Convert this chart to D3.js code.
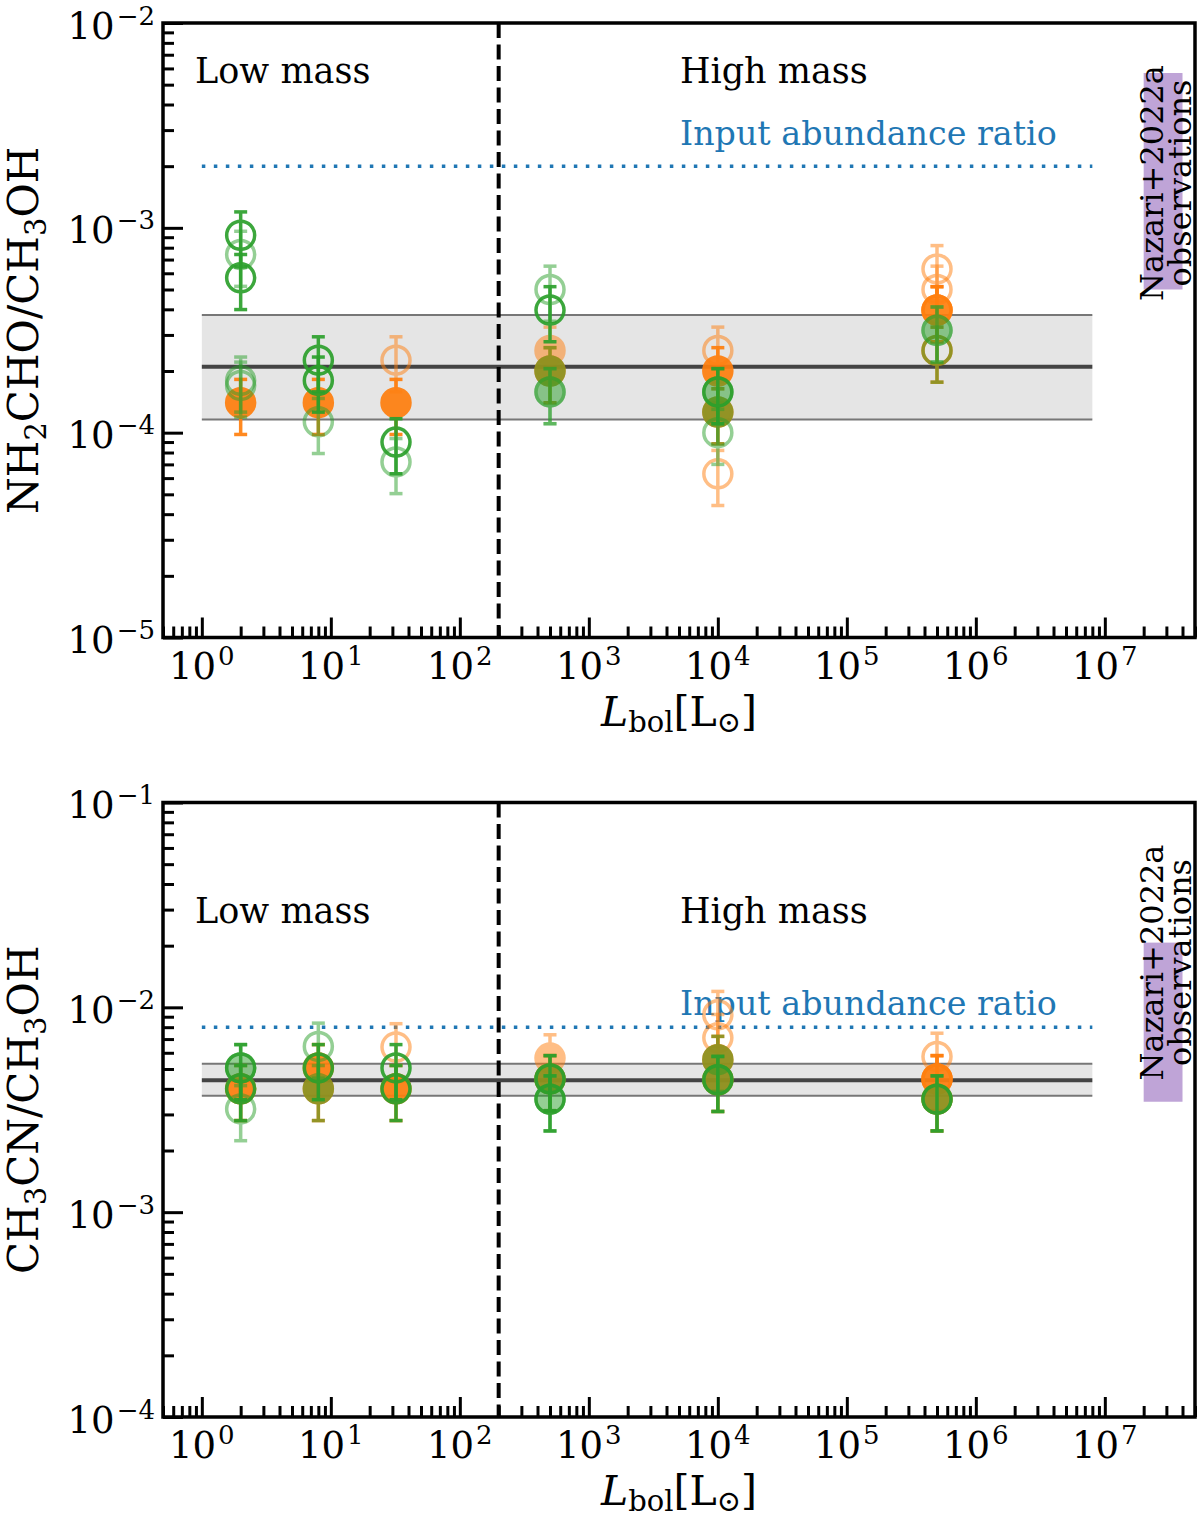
<!DOCTYPE html>
<html><head><meta charset="utf-8">
<script src="https://cdn.jsdelivr.net/npm/d3@7"></script>
<style>
body{margin:0;background:#fff}
svg{display:block}
text{font-family:"DejaVu Serif",serif;fill:#000}
</style>
</head><body>
<svg id="c" width="1200" height="1521"></svg>
<script>
// ---------------- DATA ----------------
// Bolometric luminosities of the sources (x values)
const luminosities = [2, 8, 32, 500, 1e4, 5e5];
const xMajorTicks = [1, 10, 100, 1e3, 1e4, 1e5, 1e6, 1e7];
const xTickExponents = ["0","1","2","3","4","5","6","7"];
const dividerL = 200;            // low / high mass boundary
const bandRangeX = [1, 8e6];     // extent of band and input line
const obsRangeX = [2e7, 4e7];    // Nazari+2022a observation box
const errFrac = 0.3;             // relative error bars

// ---- top panel: NH2CHO / CH3OH ----
const topYTicks = [1e-5, 1e-4, 1e-3, 1e-2];
const topYExponents = ["−5","−4","−3","−2"];
const topInput = 2e-3;
const topMedian = 2.1e-4;
const topBand = [1.16e-4, 3.75e-4];
const topObs = [5.0e-4, 5.7e-3];
const topOrangeFilled = [[2,1.4e-4],[8,1.4e-4],[32,1.4e-4],[500,2.0e-4],[1e4,2.0e-4],[1e4,1.26e-4],[5e5,3.97e-4]];
const topOrangeFilledFaint = [[500,2.52e-4]];
const topOrangeOpenFaint = [[32,2.26e-4],[1e4,2.52e-4],[1e4,6.3e-5],[5e5,6.3e-4],[5e5,5.0e-4]];
const topOrangeOpen = [[5e5,3.97e-4],[5e5,2.52e-4]];
const topGreenFilledFaint = [[500,2.0e-4],[500,1.58e-4],[1e4,1.58e-4],[1e4,1.26e-4],[5e5,3.16e-4]];
const topGreenOpen = [[2,9.2e-4],[2,5.7e-4],[8,2.26e-4],[8,1.8e-4],[32,9.0e-5],[500,3.97e-4],[1e4,1.58e-4]];
const topGreenOpenFaint = [[2,7.4e-4],[2,1.8e-4],[2,1.7e-4],[8,1.13e-4],[32,7.2e-5],[500,5.0e-4],[500,1.58e-4],[1e4,1.0e-4],[5e5,3.16e-4],[5e5,2.52e-4]];

// ---- bottom panel: CH3CN / CH3OH ----
const botYTicks = [1e-4, 1e-3, 1e-2, 1e-1];
const botYExponents = ["−4","−3","−2","−1"];
const botInput = 8e-3;
const botMedian = 4.4e-3;
const botBand = [3.7e-3, 5.3e-3];
const botObs = [3.46e-3, 2.07e-2];
const botOrangeFilled = [[2,4.0e-3],[8,5.06e-3],[8,4.0e-3],[32,4.0e-3],[500,4.47e-3],[1e4,5.55e-3],[1e4,4.43e-3],[5e5,4.47e-3],[5e5,3.56e-3]];
const botOrangeFilledFaint = [[500,5.65e-3]];
const botOrangeOpenFaint = [[32,6.4e-3],[1e4,9.2e-3],[1e4,7.1e-3],[5e5,5.75e-3]];
const botOrangeOpen = [[5e5,4.47e-3]];
const botGreenFilledFaint = [[2,5.06e-3],[8,4.0e-3],[500,4.47e-3],[500,3.56e-3],[1e4,5.55e-3],[1e4,4.43e-3],[5e5,3.56e-3]];
const botGreenOpen = [[2,5.06e-3],[2,4.0e-3],[8,5.06e-3],[32,5.06e-3],[32,4.0e-3],[500,4.47e-3],[500,3.56e-3],[1e4,4.43e-3],[5e5,3.56e-3]];
const botGreenOpenFaint = [[2,3.19e-3],[8,6.44e-3]];

// ---------------- STYLE ----------------
const ORANGE = "#ff7f0e", GREEN = "#2ca02c", BLUE = "#1f77b4", PURPLE = "#9467bd";
const svg = d3.select("#c");
const left = 163, right = 1195;
const x = d3.scaleLog().domain([0.5, 5e7]).range([left, right]);

const panels = [
  {top:23, bottom:637.5, yDomain:[1e-5,1e-2], yTicks:topYTicks, yExp:topYExponents,
   input:topInput, median:topMedian, band:topBand, obs:topObs,
   ylabel:[["NH",0],["2",1],["CHO/CH",0],["3",1],["OH",0]],
   massY:60, inputY:122,
   series:{orangeFilled:topOrangeFilled, orangeFilledFaint:topOrangeFilledFaint, orangeOpenFaint:topOrangeOpenFaint,
           orangeOpen:topOrangeOpen, greenFilledFaint:topGreenFilledFaint, greenOpen:topGreenOpen, greenOpenFaint:topGreenOpenFaint}},
  {top:802.5, bottom:1417, yDomain:[1e-4,1e-1], yTicks:botYTicks, yExp:botYExponents,
   input:botInput, median:botMedian, band:botBand, obs:botObs,
   ylabel:[["CH",0],["3",1],["CN/CH",0],["3",1],["OH",0]],
   massY:120.5, inputY:212.5,
   series:{orangeFilled:botOrangeFilled, orangeFilledFaint:botOrangeFilledFaint, orangeOpenFaint:botOrangeOpenFaint,
           orangeOpen:botOrangeOpen, greenFilledFaint:botGreenFilledFaint, greenOpen:botGreenOpen, greenOpenFaint:botGreenOpenFaint}}
];

const seriesStyles = [
  {key:"orangeFilledFaint", color:ORANGE, filled:true,  alpha:0.5},
  {key:"orangeOpenFaint",   color:ORANGE, filled:false, alpha:0.5},
  {key:"orangeFilled",      color:ORANGE, filled:true,  alpha:0.92},
  {key:"orangeOpen",        color:ORANGE, filled:false, alpha:0.92},
  {key:"greenFilledFaint",  color:GREEN,  filled:true,  alpha:0.5},
  {key:"greenOpen",         color:GREEN,  filled:false, alpha:0.92},
  {key:"greenOpenFaint",    color:GREEN,  filled:false, alpha:0.5}
];

function minorTicks(domain){
  const out=[];
  const lo=Math.floor(Math.log10(domain[0])), hi=Math.ceil(Math.log10(domain[1]));
  for(let e=lo;e<=hi;e++) for(let m=2;m<=9;m++){const v=m*Math.pow(10,e); if(v>=domain[0]*0.999 && v<=domain[1]*1.001) out.push(v);}
  return out;
}

panels.forEach(p=>{
  const y = d3.scaleLog().domain(p.yDomain).range([p.bottom, p.top]);
  const g = svg.append("g");

  // band
  g.append("rect").attr("x",x(bandRangeX[0])).attr("width",x(bandRangeX[1])-x(bandRangeX[0]))
    .attr("y",y(p.band[1])).attr("height",y(p.band[0])-y(p.band[1])).attr("fill","#e5e5e5");
  p.band.forEach(v=>g.append("line").attr("x1",x(bandRangeX[0])).attr("x2",x(bandRangeX[1]))
    .attr("y1",y(v)).attr("y2",y(v)).attr("stroke","#777").attr("stroke-width",2));
  g.append("line").attr("x1",x(bandRangeX[0])).attr("x2",x(bandRangeX[1]))
    .attr("y1",y(p.median)).attr("y2",y(p.median)).attr("stroke","#444").attr("stroke-width",4);

  // input abundance ratio (dotted)
  g.append("line").attr("x1",x(bandRangeX[0])).attr("x2",x(bandRangeX[1]))
    .attr("y1",y(p.input)).attr("y2",y(p.input)).attr("stroke",BLUE).attr("stroke-width",3.5)
    .attr("stroke-dasharray","3.5,8.5");

  // observations box
  g.append("rect").attr("x",x(obsRangeX[0])).attr("width",x(obsRangeX[1])-x(obsRangeX[0]))
    .attr("y",y(p.obs[1])).attr("height",y(p.obs[0])-y(p.obs[1])).attr("fill",PURPLE).attr("opacity",0.6);

  // divider
  g.append("line").attr("x1",x(dividerL)).attr("x2",x(dividerL)).attr("y1",p.top).attr("y2",p.bottom)
    .attr("stroke","#000").attr("stroke-width",4).attr("stroke-dasharray","15,6.5");

  // texts
  g.append("text").attr("x",195).attr("y",p.top+p.massY).attr("font-size",35).text("Low mass");
  g.append("text").attr("x",680).attr("y",p.top+p.massY).attr("font-size",35).text("High mass");
  g.append("text").attr("x",680).attr("y",p.top+p.inputY).attr("font-size",33.3).style("fill",BLUE).text("Input abundance ratio");
  const cy = p.top + 160;
  const nt = g.append("text").attr("font-size",32).attr("text-anchor","middle");
  nt.append("tspan").attr("x",0).attr("y",0).text("Nazari+2022a");
  nt.append("tspan").attr("x",0).attr("y",28).text("observations");
  nt.attr("transform",`translate(1163,${cy}) rotate(-90)`);

  // points
  seriesStyles.forEach(s=>{
    const data = p.series[s.key] || [];
    data.forEach(([L,v])=>{
      const pg = g.append("g").attr("opacity",s.alpha);
      const px = x(L), y1 = y(v*(1-errFrac)), y2 = y(v*(1+errFrac));
      pg.append("line").attr("x1",px).attr("x2",px).attr("y1",y1).attr("y2",y2).attr("stroke",s.color).attr("stroke-width",3.5);
      [y1,y2].forEach(yy=>pg.append("line").attr("x1",px-6.5).attr("x2",px+6.5).attr("y1",yy).attr("y2",yy)
        .attr("stroke",s.color).attr("stroke-width",3.5));
      pg.append("circle").attr("cx",px).attr("cy",y(v)).attr("r",14)
        .attr("fill",s.filled?s.color:"none").attr("stroke",s.color).attr("stroke-width",3.5);
    });
  });

  // axes
  const xMaj = d3.axisBottom(x).tickValues(xMajorTicks).tickSize(-20).tickFormat("");
  const xMin = d3.axisBottom(x).tickValues(minorTicks([0.5,5e7])).tickSize(-11).tickFormat("");
  const yMaj = d3.axisLeft(y).tickValues(p.yTicks).tickSize(-20).tickFormat("");
  const yMin = d3.axisLeft(y).tickValues(minorTicks(p.yDomain)).tickSize(-11).tickFormat("");
  [[xMaj,`translate(0,${p.bottom})`],[xMin,`translate(0,${p.bottom})`],[yMaj,`translate(${left},0)`],[yMin,`translate(${left},0)`]]
    .forEach(([ax,tr])=>{
      const a = g.append("g").attr("transform",tr).call(ax);
      a.selectAll(".domain").remove();
      a.selectAll(".tick line").attr("stroke","#000").attr("stroke-width",3);
    });

  // frame
  g.append("rect").attr("x",left).attr("y",p.top).attr("width",right-left).attr("height",p.bottom-p.top)
    .attr("fill","none").attr("stroke","#000").attr("stroke-width",3.5);

  // x tick labels
  xMajorTicks.forEach((t,i)=>{
    const tx = g.append("text").attr("x",x(t)).attr("y",p.bottom+41).attr("text-anchor","middle").attr("font-size",37);
    tx.append("tspan").text("10");
    tx.append("tspan").attr("dx",2).attr("dy",-14).attr("font-size",26).text(xTickExponents[i]);
  });
  // y tick labels
  p.yTicks.forEach((t,i)=>{
    const tx = g.append("text").attr("x",155).attr("y",y(t)+15.5).attr("text-anchor","end").attr("font-size",37);
    tx.append("tspan").text("10");
    tx.append("tspan").attr("dx",2).attr("dy",-14).attr("font-size",26).text(p.yExp[i]);
  });

  // y label
  const yl = g.append("text").attr("text-anchor","middle").attr("font-size",42)
    .attr("transform",`translate(38,${(p.top+p.bottom)/2}) rotate(-90)`);
  let prevSub = false;
  p.ylabel.forEach(([s,sub])=>{
    const ts = yl.append("tspan").text(s);
    if(sub){ ts.attr("font-size",29).attr("dy",8); }
    else if(prevSub){ ts.attr("dy",-8); }
    prevSub = !!sub;
  });

  // x label
  const xl = g.append("text").attr("x",(left+right)/2).attr("y",p.bottom+88).attr("text-anchor","middle").attr("font-size",41);
  xl.append("tspan").attr("font-style","italic").text("L");
  xl.append("tspan").attr("font-size",29).attr("dy",6).text("bol");
  xl.append("tspan").attr("dy",-6).text("[L");
  xl.append("tspan").attr("font-size",29).attr("dy",6).text("⊙");
  xl.append("tspan").attr("dy",-6).text("]");
});
</script>
</body></html>
